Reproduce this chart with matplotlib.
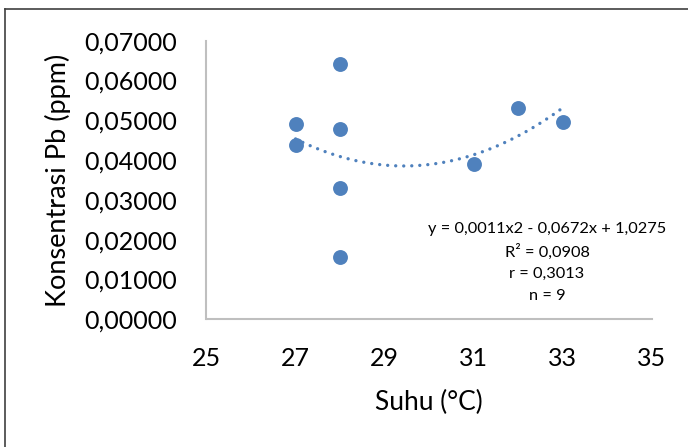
import numpy as np
import matplotlib
matplotlib.use('Agg')
import matplotlib.pyplot as plt
from matplotlib.lines import Line2D

plt.rcParams['font.family'] = ['Lato', 'DejaVu Sans']

# data
suhu = [27, 27, 28, 28, 28, 28, 31, 32, 33]
pb = [0.0491, 0.0438, 0.0641, 0.0477, 0.0329, 0.0157, 0.0390, 0.0530, 0.0495]
xticks = [25, 27, 29, 31, 33, 35]
yticks = [0.0, 0.01, 0.02, 0.03, 0.04, 0.05, 0.06, 0.07]
eq_lines = ['y = 0,0011x2 - 0,0672x + 1,0275', 'R² = 0,0908', 'r = 0,3013', 'n = 9']

blue = '#4F81BD'

fig = plt.figure(figsize=(6.88, 4.47), dpi=100)
ax = fig.add_axes([206.5/688, 1-319.3/447, (652-206.5)/688, (319.3-40.7)/447])

ax.scatter(suhu, pb, s=115, color=blue, zorder=3, linewidths=0)

# polynomial trendline (order 2), like excel
coef = np.polyfit(suhu, pb, 2)
xt = np.linspace(min(suhu), max(suhu), 200)
ax.plot(xt, np.polyval(coef, xt), color=blue, lw=2.4,
        linestyle=(0, (0.01, 2.4)), dash_capstyle='round', zorder=2)

ax.set_xlim(25, 35)
ax.set_ylim(0, 0.07)
ax.set_xticks(xticks)
ax.set_yticks(yticks)
ax.set_xticklabels([str(v) for v in xticks])
ax.set_yticklabels([('%.5f' % v).replace('.', ',') for v in yticks])
ax.tick_params(length=0, labelsize=18, colors='black')
ax.tick_params(axis='y', pad=21.5)
ax.tick_params(axis='x', pad=20)

for s in ['top', 'right']:
    ax.spines[s].set_visible(False)
for s in ['left', 'bottom']:
    ax.spines[s].set_color('#BFBFBF')
    ax.spines[s].set_linewidth(1.5)

ax.set_xlabel('Suhu (°C)', fontsize=19, labelpad=14)
ax.set_ylabel('Konsentrasi Pb (ppm)', fontsize=19.5, labelpad=9)

for i, t in enumerate(eq_lines):
    fig.text(547/688, 1-(229+i*22.5)/447, t, fontsize=11.8, ha='center', va='center')

# chart area border (only left and top visible in the crop)
fig.add_artist(Line2D([5/688, 5/688], [0, 1-9/447], color='#404040', lw=1.2))
fig.add_artist(Line2D([5/688, 1], [1-9/447, 1-9/447], color='#404040', lw=1.2))

fig.savefig('out.png', dpi=100)
